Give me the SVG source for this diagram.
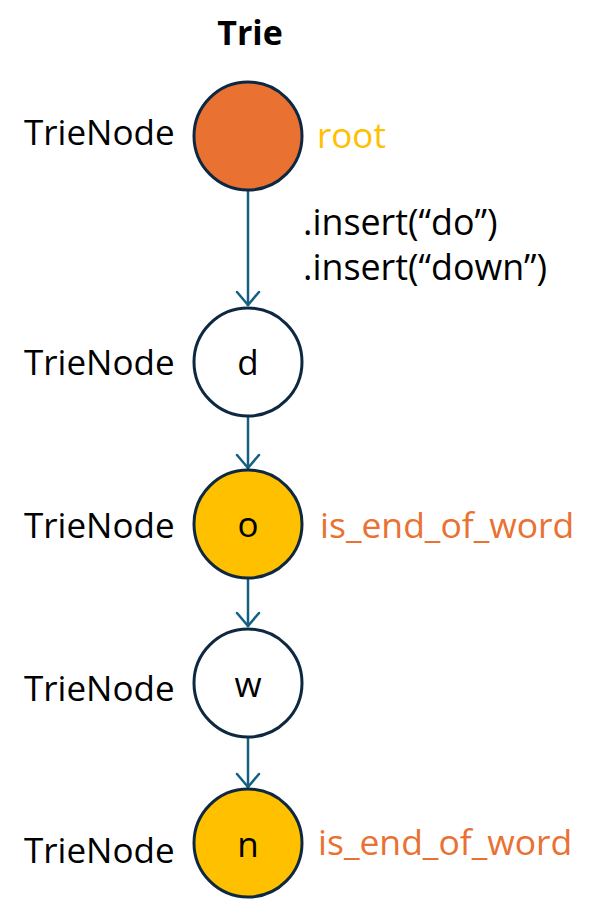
<svg xmlns="http://www.w3.org/2000/svg" width="601" height="900" viewBox="0 0 601 900">
<defs>
<style>
text{font-family:"Open Sans","Noto Sans","Liberation Sans",sans-serif;font-size:35px;fill:#000}
.ch{text-anchor:middle}
.ins{font-size:35.8px}
.eow{fill:#E97132;font-size:35.5px}
.node{stroke:#0E2841;stroke-width:3}
.edge{stroke:#156082;stroke-width:2.5;fill:none}
.ah{stroke:#156082;stroke-width:2.5;fill:none;stroke-linecap:round;stroke-linejoin:round}
.orange{fill:#E97132}
.yellow{fill:#FFC000}
.white{fill:#FFFFFF}
</style>
</defs>
<rect width="601" height="900" fill="#FFFFFF"/>
<text x="250" y="45" text-anchor="middle" font-weight="bold" style="font-size:34px">Trie</text>
<g id="connectors">
<line class="edge" x1="248" y1="191" x2="248" y2="306"/>
<line class="edge" x1="248" y1="417" x2="248" y2="469"/>
<line class="edge" x1="248" y1="579" x2="248" y2="627"/>
<line class="edge" x1="248" y1="738" x2="248" y2="788"/>
<path class="ah" d="M237,292 L248,305 L259,292"/>
<path class="ah" d="M237,455 L248,468 L259,455"/>
<path class="ah" d="M237,613 L248,626 L259,613"/>
<path class="ah" d="M237,774 L248,787 L259,774"/>
<text class="ins" x="303" y="235">.insert(“do”)</text>
<text class="ins" x="303" y="280">.insert(“down”)</text>
</g>
<g id="node-root">
<circle class="node orange" cx="248" cy="136" r="54"/>
<text x="24" y="145">TrieNode</text>
<text x="317" y="148" style="fill:#FFC000">root</text>
</g>
<g id="node-d">
<circle class="node white" cx="248" cy="362" r="54"/>
<text x="24" y="375">TrieNode</text>
<text class="ch" x="248" y="375">d</text>
</g>
<g id="node-o">
<circle class="node yellow" cx="248" cy="524" r="54"/>
<text x="24" y="538">TrieNode</text>
<text class="ch" x="248" y="537">o</text>
<text class="eow" x="320" y="538">is_end_of_word</text>
</g>
<g id="node-w">
<circle class="node white" cx="248" cy="683" r="54"/>
<text x="24" y="701">TrieNode</text>
<text class="ch" x="248" y="697">w</text>
</g>
<g id="node-n">
<circle class="node yellow" cx="248" cy="843" r="54"/>
<text x="24" y="863">TrieNode</text>
<text class="ch" x="248" y="857">n</text>
<text class="eow" x="318" y="855">is_end_of_word</text>
</g>
</svg>
